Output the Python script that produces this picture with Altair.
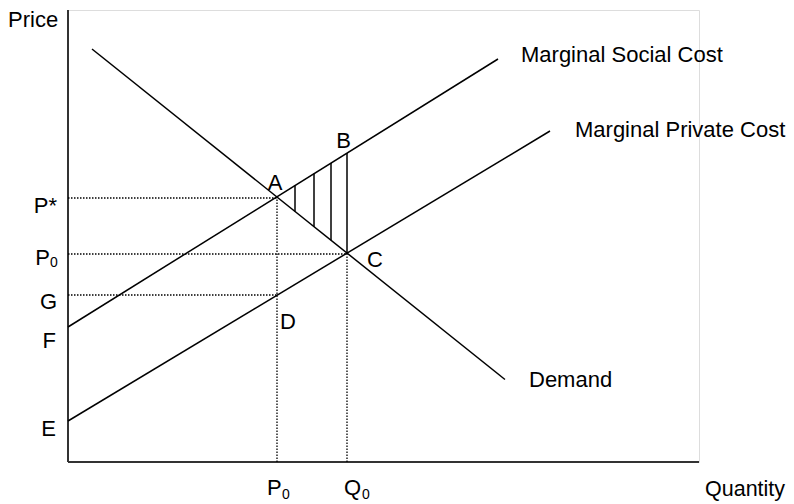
import altair as alt
import pandas as pd
import numpy as np

# Curves: (quantity, price) endpoints in chart units
demand_q = [24, 437]
demand_p = [413, 82.5]
msc_q = [0, 430]
msc_p = [135, 403]
mpc_q = [0, 482]
mpc_p = [41, 331]

# Reference levels
p_star = 264
p_zero = 208
g_level = 167
q_p0 = 209
q_q0 = 279
hatch_q = [227, 246, 263, 279]

X_MAX = 631
Y_MAX = 452

xs = alt.Scale(domain=[0, X_MAX], nice=False, zero=False)
ys = alt.Scale(domain=[0, Y_MAX], nice=False, zero=False)
FONT = "Liberation Sans"

curves = pd.DataFrame({
    "x": demand_q + msc_q + mpc_q,
    "y": demand_p + msc_p + mpc_p,
    "s": ["Demand"] * 2 + ["MSC"] * 2 + ["MPC"] * 2,
})

lines = alt.Chart(curves).mark_line(color="black", strokeWidth=1.5).encode(
    x=alt.X("x:Q", scale=xs, axis=None),
    y=alt.Y("y:Q", scale=ys, axis=None),
    detail="s:N",
)

dotted = pd.DataFrame({
    "x": [0, 0, 0, q_p0, q_q0],
    "x2": [q_p0, q_q0, q_p0, q_p0, q_q0],
    "y": [p_star, p_zero, g_level, 0, 0],
    "y2": [p_star, p_zero, g_level, p_star, p_zero],
})
dots = alt.Chart(dotted).mark_rule(color="black", strokeWidth=1.3, strokeDash=[1.5, 1.5]).encode(
    x=alt.X("x:Q", scale=xs, axis=None), x2="x2:Q",
    y=alt.Y("y:Q", scale=ys, axis=None), y2="y2:Q",
)

hatch = pd.DataFrame({
    "x": hatch_q,
    "y": np.interp(hatch_q, demand_q, demand_p),
    "y2": np.interp(hatch_q, msc_q, msc_p),
})
hatches = alt.Chart(hatch).mark_rule(color="black", strokeWidth=1.5).encode(
    x=alt.X("x:Q", scale=xs, axis=None),
    y=alt.Y("y:Q", scale=ys, axis=None), y2="y2:Q",
)

axes_df = pd.DataFrame({"x": [0, 0], "x2": [0, X_MAX], "y": [0, 0], "y2": [Y_MAX, 0]})
axes = alt.Chart(axes_df).mark_rule(color="#333333", strokeWidth=2).encode(
    x=alt.X("x:Q", scale=xs, axis=None), x2="x2:Q",
    y=alt.Y("y:Q", scale=ys, axis=None), y2="y2:Q",
)

# Text labels: text, x, y, align, size
label_text = ["Price", "Quantity", "P*", "P", "0", "G", "F", "E",
              "P", "0", "Q", "0", "A", "B", "C", "D",
              "Marginal Social Cost", "Marginal Private Cost", "Demand"]
label_x = [-60, 637, -11, -18, -18, -11, -12, -12,
           199, 214, 276, 294, 207, 275.5, 299, 220,
           453, 507, 461]
label_y = [435, -34, 249, 197, 195, 153, 114, 26,
           -33, -37, -33, -37, 272, 314, 195, 133,
           400, 325, 75]
label_align = ["left", "left", "right", "right", "left", "right", "right", "right",
               "left", "left", "left", "left", "center", "center", "left", "center",
               "left", "left", "left"]
label_size = [22, 21.5, 22, 22, 14, 22, 22, 22,
              22, 14, 22, 14, 22, 22, 22, 22,
              22, 22, 22]

labels = pd.DataFrame({"t": label_text, "x": label_x, "y": label_y,
                       "a": label_align, "fs": label_size})

text_layers = []
for (a, fs), grp in labels.groupby(["a", "fs"]):
    text_layers.append(
        alt.Chart(grp).mark_text(align=a, baseline="alphabetic", fontSize=float(fs),
                                 font=FONT, color="black").encode(
            x=alt.X("x:Q", scale=xs, axis=None),
            y=alt.Y("y:Q", scale=ys, axis=None),
            text="t:N",
        )
    )

chart = alt.layer(axes, dots, hatches, lines, *text_layers).properties(
    width=X_MAX, height=Y_MAX,
    autosize=alt.AutoSizeParams(type="none"),
    padding={"left": 60, "top": 2, "right": 87, "bottom": 50},
).configure_view(stroke=None).configure(background="white")

chart.save("out.html", embed_options={"renderer": "svg", "actions": False})
